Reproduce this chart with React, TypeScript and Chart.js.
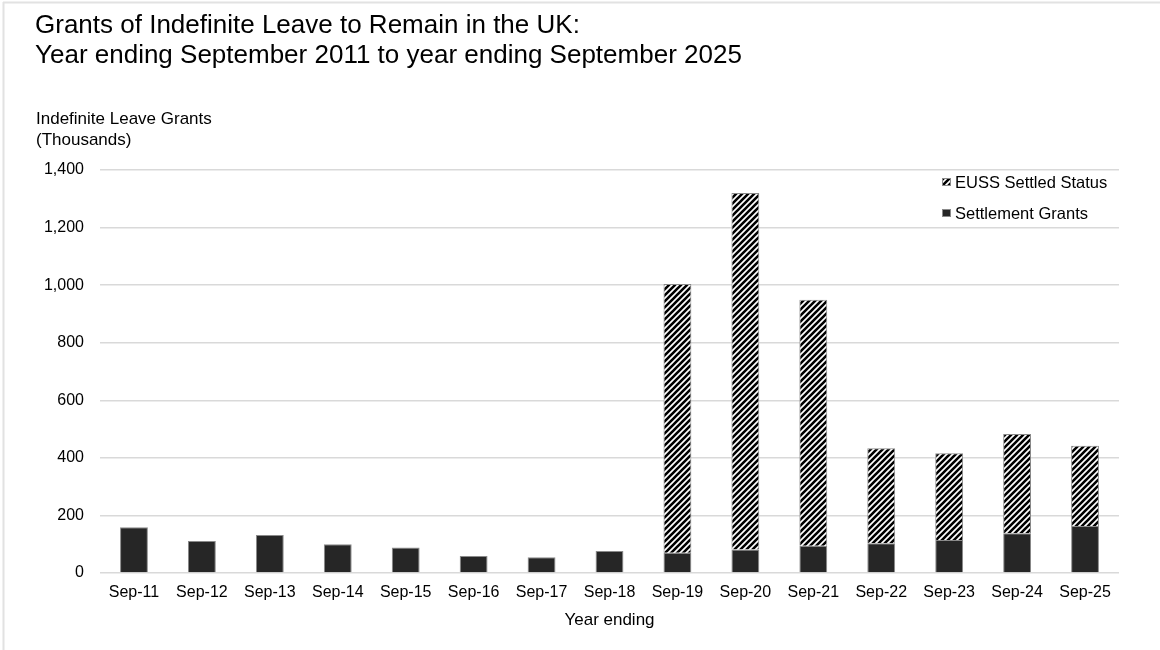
import React, { useEffect, useRef } from "react";
import { Chart, registerables } from "chart.js";

Chart.register(...registerables);

const categories = [
  "Sep-11", "Sep-12", "Sep-13", "Sep-14", "Sep-15", "Sep-16", "Sep-17", "Sep-18",
  "Sep-19", "Sep-20", "Sep-21", "Sep-22", "Sep-23", "Sep-24", "Sep-25",
];
const settlementGrants = [159, 111, 132, 100, 89, 59, 55, 76, 70, 82, 95, 103, 115, 138, 163];
const eussSettledStatus = [null, null, null, null, null, null, null, null, 934, 1238, 854, 330, 301, 345, 279];
const yTickMax = 1400;
const yTickStep = 200;

const titleLines = [
  "Grants of Indefinite Leave to Remain in the UK:",
  "Year ending September 2011 to year ending September 2025",
];
const yAxisTitleLines = ["Indefinite Leave Grants", "(Thousands)"];
const xAxisTitle = "Year ending";
const seriesNames = ["Settlement Grants", "EUSS Settled Status"];

const FONT = "'Liberation Sans', Arial, Helvetica, sans-serif";
const DARK = "#262626";
const EDGE = "#8a8a8a";

function makeStripePattern(): CanvasPattern | string {
  const c = document.createElement("canvas");
  const s = 6;
  c.width = s;
  c.height = s;
  const g = c.getContext("2d");
  if (!g) return "#888";
  g.fillStyle = "#ffffff";
  g.fillRect(0, 0, s, s);
  g.strokeStyle = "#000000";
  g.lineWidth = 2.6;
  g.beginPath();
  g.moveTo(0, s);
  g.lineTo(s, 0);
  g.moveTo(-s / 2, s / 2);
  g.lineTo(s / 2, -s / 2);
  g.moveTo(s / 2, s + s / 2);
  g.lineTo(s + s / 2, s / 2);
  g.stroke();
  return g.createPattern(c, "repeat") || "#888";
}

export default function App() {
  const canvasRef = useRef<HTMLCanvasElement | null>(null);

  useEffect(() => {
    const canvas = canvasRef.current;
    if (!canvas) return;
    const stripe = makeStripePattern();

    const textPlugin = {
      id: "customText",
      beforeDraw(chart: any) {
        const ctx = chart.ctx as CanvasRenderingContext2D;
        ctx.save();
        ctx.fillStyle = "#ffffff";
        ctx.fillRect(0, 0, chart.width, chart.height);
        ctx.strokeStyle = "#e2e2e2";
        ctx.lineWidth = 2;
        ctx.beginPath();
        ctx.moveTo(3.5, 2);
        ctx.lineTo(3.5, chart.height);
        ctx.moveTo(3, 2.5);
        ctx.lineTo(chart.width, 2.5);
        ctx.stroke();
        ctx.restore();
      },
      afterDraw(chart: any) {
        const ctx = chart.ctx as CanvasRenderingContext2D;
        const area = chart.chartArea;
        ctx.save();
        ctx.fillStyle = "#000000";
        ctx.textBaseline = "alphabetic";
        ctx.textAlign = "left";
        ctx.font = `26px ${FONT}`;
        ctx.fillText(titleLines[0], 35, 33);
        ctx.fillText(titleLines[1], 35, 63);

        ctx.font = `17px ${FONT}`;
        ctx.fillText(yAxisTitleLines[0], 36, 124);
        ctx.fillText(yAxisTitleLines[1], 36, 145);

        ctx.textAlign = "center";
        ctx.fillText(xAxisTitle, (area.left + area.right) / 2, 625);

        // legend
        ctx.textAlign = "left";
        ctx.textBaseline = "middle";
        ctx.font = `16.5px ${FONT}`;
        const items = [
          { label: seriesNames[1], fill: stripe, y: 182 },
          { label: seriesNames[0], fill: DARK, y: 213 },
        ];
        for (const it of items) {
          ctx.fillStyle = it.fill as any;
          ctx.fillRect(942, it.y - 4, 9, 8);
          ctx.strokeStyle = EDGE;
          ctx.lineWidth = 1;
          ctx.strokeRect(942.5, it.y - 3.5, 8, 7);
          ctx.fillStyle = "#000000";
          ctx.fillText(it.label, 955, it.y + 1);
        }
        ctx.restore();
      },
    };

    const chart = new Chart(canvas, {
      type: "bar",
      data: {
        labels: categories,
        datasets: [
          {
            label: seriesNames[0],
            data: settlementGrants,
            backgroundColor: DARK,
            borderColor: EDGE,
            borderWidth: 1,
            barPercentage: 0.41,
            categoryPercentage: 1,
          },
          {
            label: seriesNames[1],
            data: eussSettledStatus as any,
            backgroundColor: stripe as any,
            borderColor: EDGE,
            borderWidth: 1,
            barPercentage: 0.41,
            categoryPercentage: 1,
          },
        ],
      },
      options: {
        animation: false,
        responsive: false,
        maintainAspectRatio: false,
        layout: { padding: { left: 0, right: 41, top: 170, bottom: 0 } },
        plugins: {
          legend: { display: false },
          title: { display: false },
          tooltip: { enabled: false },
        },
        scales: {
          x: {
            stacked: true,
            grid: { display: false, drawTicks: false },
            border: { display: false },
            ticks: {
              color: "#000000",
              font: { size: 16, family: FONT },
              padding: 10,
              maxRotation: 0,
              autoSkip: false,
            },
            afterFit: (s: any) => {
              s.height = 77;
            },
          },
          y: {
            stacked: true,
            min: 0,
            max: yTickMax,
            grid: { color: "#d9d9d9", lineWidth: 1.5, drawTicks: false },
            border: { display: false },
            ticks: {
              stepSize: yTickStep,
              color: "#000000",
              font: { size: 16, family: FONT },
              padding: 16,
              callback: (v: any) => Number(v).toLocaleString("en-GB"),
            },
            afterFit: (s: any) => {
              s.width = 100;
            },
          },
        },
      },
      plugins: [textPlugin],
    });

    return () => {
      chart.destroy();
    };
  }, []);

  return (
    <div style={{ position: "fixed", left: 0, top: 0, width: 1160, height: 650, background: "#fff" }}>
      <canvas ref={canvasRef} width={1160} height={650} style={{ width: 1160, height: 650, display: "block" }} />
    </div>
  );
}
